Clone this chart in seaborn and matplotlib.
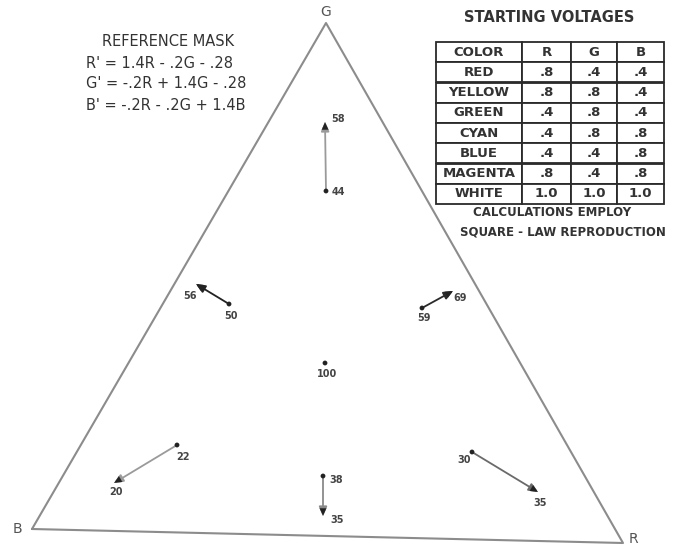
import matplotlib
matplotlib.use("Agg")
import matplotlib.pyplot as plt
import seaborn as sns
import pandas as pd

# Colour triangle corners (drawing units, y grows downward)
vertex_names = ["B", "R", "G"]
vertex_x = [32, 623, 326]
vertex_y = [529, 543, 23]

# Shift of each test colour: start point -> end point
colors = ["GREEN", "CYAN", "YELLOW", "BLUE", "MAGENTA", "RED"]
start_x = [326, 229, 422, 177, 323, 472]
start_y = [191, 304, 308, 445, 476, 452]
end_x = [325, 196, 453, 114, 323, 538]
end_y = [122, 284, 291, 483, 516, 492]
start_value = ["44", "50", "59", "22", "38", "30"]
end_value = ["58", "56", "69", "20", "35", "35"]
line_shade = ["#9a9a9a", "#222222", "#2a2a2a", "#9a9a9a", "#8a8a8a", "#6a6a6a"]

# White stays put
white_x, white_y, white_value = 325, 363, "100"

# Label offsets (drawing units) for start/end numbers
start_lab_dx = [12, 2, 2, 6, 13, -8]
start_lab_dy = [1, 12, 10, 12, 4, 8]
end_lab_dx = [13, -6, 7, 2, 14, 2]
end_lab_dy = [-3, 12, 7, 9, 4, 11]

# Starting-voltage table
table_header = ["COLOR", "R", "G", "B"]
table_colors = ["RED", "YELLOW", "GREEN", "CYAN", "BLUE", "MAGENTA", "WHITE"]
volt_r = [".8", ".8", ".4", ".4", ".4", ".8", "1.0"]
volt_g = [".4", ".8", ".8", ".8", ".4", ".4", "1.0"]
volt_b = [".4", ".4", ".4", ".8", ".8", ".8", "1.0"]

mask_title = "REFERENCE MASK"
mask_equations = ["R' = 1.4R - .2G - .28", "G' = -.2R + 1.4G - .28",
                  "B' = -.2R - .2G + 1.4B"]

W, H = 679, 548
sns.set_theme(style="white")
plt.rcParams["font.family"] = ["DejaVu Sans"]
ink = "#333333"

fig = plt.figure(figsize=(W / 100, H / 100), dpi=100)
ax = fig.add_axes([0, 0, 1, 1])
ax.set_xlim(0, W)
ax.set_ylim(H, 0)
ax.axis("off")

# Triangle outline
tri = pd.DataFrame({"x": vertex_x + vertex_x[:1], "y": vertex_y + vertex_y[:1]})
sns.lineplot(data=tri, x="x", y="y", sort=False, estimator=None,
             color="#8c8c8c", linewidth=1.5, ax=ax)
vertex_off = {"B": (-15, 0), "R": (10, -4), "G": (0, -11)}
for name, vx, vy in zip(vertex_names, vertex_x, vertex_y):
    dx, dy = vertex_off[name]
    ax.text(vx + dx, vy + dy, name, ha="center", va="center",
            fontsize=10, color="#555555")

# Shift vectors
for i in range(len(colors)):
    ax.annotate("", xy=(end_x[i], end_y[i]), xytext=(start_x[i], start_y[i]),
                arrowprops=dict(arrowstyle="-|>,head_length=0.45,head_width=0.2",
                                color=line_shade[i], lw=1.3,
                                shrinkA=0, shrinkB=0))
    # darker arrowhead
    ax.annotate("", xy=(end_x[i], end_y[i]),
                xytext=(end_x[i] + (start_x[i] - end_x[i]) * 0.01,
                        end_y[i] + (start_y[i] - end_y[i]) * 0.01),
                arrowprops=dict(arrowstyle="-|>,head_length=0.45,head_width=0.2",
                                color="#222222", lw=0.1, shrinkA=0, shrinkB=0))
    ax.text(start_x[i] + start_lab_dx[i], start_y[i] + start_lab_dy[i], start_value[i],
            ha="center", va="center", fontsize=7, fontweight="bold", color="#444444")
    ax.text(end_x[i] + end_lab_dx[i], end_y[i] + end_lab_dy[i], end_value[i],
            ha="center", va="center", fontsize=7, fontweight="bold", color="#444444")

dots = pd.DataFrame({"x": start_x + [white_x], "y": start_y + [white_y]})
sns.scatterplot(data=dots, x="x", y="y", s=12, color="#222222",
                edgecolor="none", ax=ax, zorder=5)
ax.text(white_x + 2, white_y + 11, white_value, ha="center", va="center",
        fontsize=7, fontweight="bold", color="#444444")
ax.set_xlabel("")
ax.set_ylabel("")

# Reference mask equations
ax.text(168, 42, mask_title, ha="center", va="center", fontsize=10.5,
        color=ink)
for k, eq in enumerate(mask_equations):
    ax.text(86, 63 + 21 * k, eq, ha="left", va="center", fontsize=10.5,
            color=ink)

# Starting voltages table
ax.text(549, 17, "STARTING VOLTAGES", ha="center", va="center",
        fontsize=10.5, fontweight="bold", color=ink)
cells = [[c, r, g, b] for c, r, g, b in zip(table_colors, volt_r, volt_g, volt_b)]
left, right, top, bottom = 436, 664, 42, 204
tab = ax.table(cellText=[table_header] + cells,
               colWidths=[86 / 228, 49 / 228, 46 / 228, 47 / 228],
               cellLoc="center",
               bbox=[left / W, 1 - bottom / H, (right - left) / W, (bottom - top) / H])
tab.auto_set_font_size(False)
for (r, c), cell in tab.get_celld().items():
    cell.set_edgecolor("#2a2a2a")
    cell.set_linewidth(1.3)
    cell.set_facecolor("white")
    cell.get_text().set_fontsize(9.5)
    cell.get_text().set_fontweight("bold")
    cell.get_text().set_color(ink)

ax.text(552, 213, "CALCULATIONS EMPLOY", ha="center", va="center",
        fontsize=8.5, fontweight="bold", color=ink)
ax.text(563, 232, "SQUARE - LAW REPRODUCTION", ha="center", va="center",
        fontsize=8.5, fontweight="bold", color=ink)

fig.savefig("out.png", dpi=100, facecolor="white")
